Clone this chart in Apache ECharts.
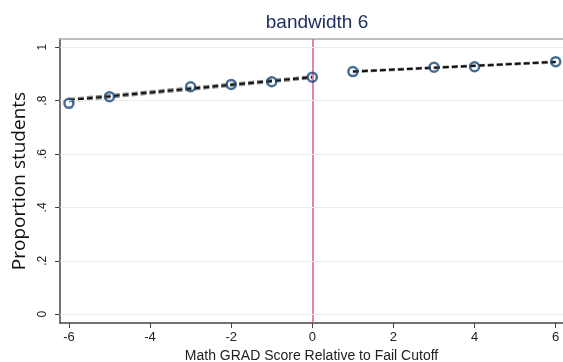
<!DOCTYPE html>
<html>
<head>
<meta charset="utf-8">
<script src="https://cdn.jsdelivr.net/npm/echarts@6/dist/echarts.min.js"></script>
<style>html,body{margin:0;padding:0;background:#fff}#c{width:563px;height:362px}</style>
</head>
<body>
<div id="c"></div>
<script>
const xPoints = [-6, -5, -3, -2, -1, 0, 1, 3, 4, 6];
const yPoints = [0.790, 0.815, 0.852, 0.861, 0.871, 0.888, 0.909, 0.925, 0.927, 0.946];
const leftFitX = [-6, 0];
const leftFit = [0.802, 0.888];
const leftUpper = [0.808, 0.893];
const leftLower = [0.796, 0.883];
const rightFitX = [1, 6];
const rightFit = [0.909, 0.945];
const rightUpper = [0.912, 0.948];
const rightLower = [0.906, 0.942];
const xTicks = [-6, -4, -2, 0, 2, 4, 6];
const yTicks = [0, 0.2, 0.4, 0.6, 0.8, 1];
const cutoff = 0;

function pairs(xs, ys) { return xs.map((x, i) => [x, ys[i]]); }
function yLab(v) { if (v === 0) return '0'; if (v === 1) return '1'; return String(v).replace(/^0/, ''); }

const chart = echarts.init(document.getElementById('c'), null, {renderer: 'canvas'});
const dashed = (name, xs, ys, color, w) => ({
  name, type: 'line', data: pairs(xs, ys), symbol: 'none', z: 3,
  lineStyle: {color, width: w, type: [6, 3]}
});
chart.setOption({
  animation: false,
  title: {text: 'bandwidth 6', left: 312, top: 8, textAlign: 'center',
    textStyle: {color: '#1f3060', fontSize: 19, fontWeight: 'normal', fontFamily: 'Liberation Sans, Arial'}},
  grid: {left: 60, right: 0, top: 39, bottom: 39, containLabel: false, outerBoundsMode: 'none'},
  xAxis: [{
    type: 'value', min: -6.22, max: 6.18,
    axisLine: {show: true, onZero: false, lineStyle: {color: '#444', width: 1.5}},
    axisTick: {show: true, length: 5, customValues: xTicks, lineStyle: {color: '#444'}},
    axisLabel: {customValues: xTicks, color: '#222', fontSize: 13, margin: 8, fontFamily: 'Liberation Sans, Arial'},
    splitLine: {show: false},
    name: 'Math GRAD Score Relative to Fail Cutoff', nameLocation: 'middle', nameGap: 25,
    nameTextStyle: {color: '#222', fontSize: 14, fontFamily: 'Liberation Sans, Arial'}
  }, {
    type: 'value', position: 'top', min: -6.22, max: 6.18,
    axisLine: {show: true, onZero: false, lineStyle: {color: '#aaa', width: 1.5}},
    axisTick: {show: false}, axisLabel: {show: false}, splitLine: {show: false}
  }],
  yAxis: {
    type: 'value', min: -0.033, max: 1.031,
    axisLine: {show: true, onZero: false, lineStyle: {color: '#444', width: 1.5}},
    axisTick: {show: true, length: 5, customValues: yTicks, lineStyle: {color: '#444'}},
    axisLabel: {customValues: yTicks, rotate: 90, formatter: yLab, color: '#222', fontSize: 12, margin: 11, fontFamily: 'Liberation Sans, Arial'},
    splitLine: {show: false},
    name: 'Proportion students', nameLocation: 'middle', nameGap: 24,
    nameTextStyle: {color: '#111', fontSize: 19, fontFamily: 'Open Sans, Noto Sans, sans-serif'}
  },
  series: [
    {
      name: 'grid', type: 'line', data: [], silent: true,
      markLine: {silent: true, symbol: 'none', label: {show: false},
        lineStyle: {color: '#eceeee', width: 1, type: 'solid'},
        data: yTicks.map(v => ({yAxis: v}))}
    },
    {
      name: 'cutoff', type: 'line', data: [], silent: true,
      markLine: {silent: true, symbol: 'none', label: {show: false}, z: 4,
        lineStyle: {color: '#e05a80', width: 1.5, type: 'solid'},
        data: [{xAxis: cutoff}]}
    },
    dashed('lu', leftFitX, leftUpper, '#8a8a8a', 1.5),
    dashed('ll', leftFitX, leftLower, '#8a8a8a', 1.5),
    dashed('ru', rightFitX, rightUpper, '#8a8a8a', 1.5),
    dashed('rl', rightFitX, rightLower, '#8a8a8a', 1.5),
    dashed('lf', leftFitX, leftFit, '#111', 2),
    dashed('rf', rightFitX, rightFit, '#111', 2),
    {
      name: 'points', type: 'scatter', data: pairs(xPoints, yPoints), z: 5,
      symbol: 'circle', symbolSize: 9,
      itemStyle: {color: 'rgba(255,255,255,0)', borderColor: '#1a4a78', borderWidth: 2.5}
    }
  ]
});
</script>
</body>
</html>
